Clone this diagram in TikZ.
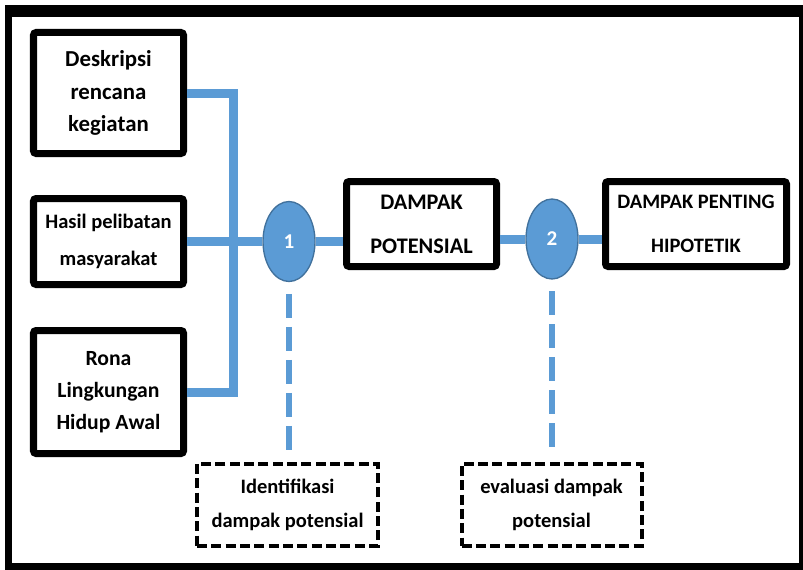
\documentclass[tikz,border=0pt]{standalone}
\usepackage{fontspec}
\setmainfont{Carlito}
\usetikzlibrary{positioning,calc,shapes.geometric}
\definecolor{flowblue}{HTML}{5B9BD5}
\definecolor{edgeblue}{HTML}{41719C}

\begin{document}
\begin{tikzpicture}[x=0.3mm,y=-0.3mm,
    inbox/.style={draw=black, line width=2.1mm, rounded corners=0.8mm, fill=white,
        align=center, inner sep=0pt, font=\bfseries\fontsize{18.5}{27.5}\selectfont},
    notebox/.style={draw=black, line width=1.2mm, dash pattern=on 3mm off 1.3mm,
        fill=white, align=center, inner sep=0pt,
        font=\bfseries\fontsize{17.5}{29}\selectfont},
    stepnode/.style={ellipse, draw=edgeblue, line width=0.4mm, fill=flowblue,
        minimum width=15.6mm, minimum height=24mm, inner sep=0pt,
        text=white, font=\bfseries\fontsize{18}{20}\selectfont},
    flow/.style={flowblue, line width=2.7mm, line join=miter},
    guide/.style={flowblue, line width=1.8mm, dash pattern=on 7.2mm off 2.7mm}
]
\useasboundingbox (0,0) rectangle (803,570);
\fill[white] (0,0) rectangle (803,570);

% Frame
\fill[black] (5,5) rectangle (803,570);
\fill[white] (12,17) rectangle (799,563);

% Input boxes
\node[inbox, minimum width=45mm, minimum height=36.3mm,
    font=\bfseries\fontsize{19.5}{28}\selectfont] (desk) at (108.5,93)
    {Deskripsi\\rencana\\kegiatan};
\node[inbox, minimum width=45mm, minimum height=25.8mm,
    font=\bfseries\fontsize{17.5}{31}\selectfont] (hasil) at (108.5,241.5)
    {Hasil pelibatan\\masyarakat};
\node[inbox, minimum width=45mm, minimum height=36.9mm] (rona) at (108.5,392)
    {Rona\\Lingkungan\\Hidup Awal};

% Result boxes
\node[inbox, minimum width=45mm, minimum height=25.5mm,
    font=\bfseries\fontsize{19}{37.5}\selectfont] (dampak) at (421.5,224)
    {DAMPAK\\POTENSIAL};
\node[inbox, minimum width=54.3mm, minimum height=25.5mm,
    font=\bfseries\fontsize{17.5}{37.5}\selectfont] (hipo) at (696,224)
    {DAMPAK PENTING\\HIPOTETIK};

% Steps
\node[stepnode] (c1) at (289,241.5) {1};
\node[stepnode] (c2) at (552,239) {2};

% Notes
\node[notebox, minimum width=54.3mm, minimum height=24.6mm] (note1) at (287.5,504.5)
    {Identifikasi\\dampak potensial};
\node[notebox, minimum width=54mm, minimum height=24.6mm] (note2) at (551.5,504.5)
    {evaluasi dampak\\potensial};

% Connectors
\coordinate (bus) at (233,241.5);
\draw[flow] (desk.east) -| (bus) |- (rona.east);
\draw[flow] (hasil.east) -- (c1.west);
\draw[flow] (c1.east) -- (c1.east -| dampak.west);
\draw[flow] (dampak.east |- c2.west) -- (c2.west);
\draw[flow] (c2.east) -- (c2.east -| hipo.west);

% Guides to notes
\draw[guide, shorten <=3.5mm, shorten >=3.5mm] (c1.south) -- (c1.south |- note1.north);
\draw[guide, shorten <=3.5mm, shorten >=3.5mm] (c2.south) -- (c2.south |- note2.north);
\end{tikzpicture}
\end{document}
